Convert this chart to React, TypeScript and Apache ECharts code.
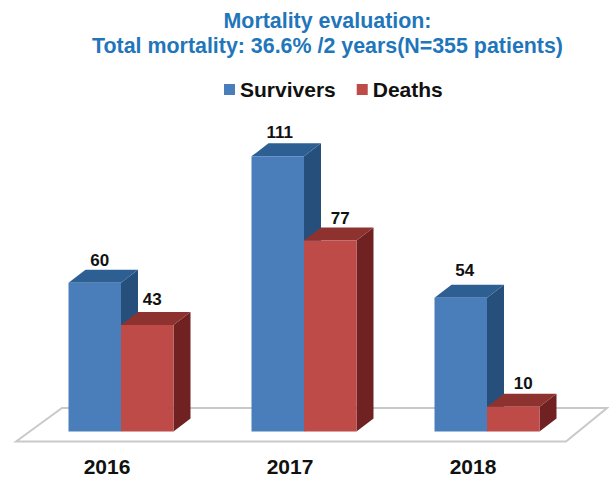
import React, { useEffect, useRef } from "react";
import * as echarts from "echarts";

const years = ["2016", "2017", "2018"];
const survivors = [60, 111, 54];
const deaths = [43, 77, 10];
const titleText = "Mortality evaluation:\nTotal mortality: 36.6% /2 years(N=355 patients)";
const FONT = '"Liberation Sans", Arial, sans-serif';
const BAR_RATIO = 52.5 / 183;
const DX = 17;
const DY = 13;
const survivorLabelNudge = [[5, -22], [2, -24], [4, -27]];
const deathLabelNudge = [[5, -25], [10, -22], [10, -23]];

function bar3d(slot: number, front: string, top: string, side: string, nudge: number[][]) {
  return (_params: any, api: any) => {
    const i = api.value(0);
    const v = api.value(1);
    const band = api.size([1, 0])[0];
    const w = band * BAR_RATIO;
    const c = api.coord([i, v]);
    const b = api.coord([i, 0]);
    const x0 = c[0] + slot * w;
    const x1 = x0 + w;
    const yT = c[1];
    const yB = b[1];
    return {
      type: "group",
      children: [
        {
          type: "polygon",
          shape: { points: [[x1, yT], [x1 + DX, yT - DY], [x1 + DX, yB - DY], [x1, yB]] },
          style: { fill: side },
        },
        {
          type: "polygon",
          shape: { points: [[x0, yT], [x0 + DX, yT - DY], [x1 + DX, yT - DY], [x1, yT]] },
          style: { fill: top },
        },
        { type: "rect", shape: { x: x0, y: yT, width: w, height: yB - yT }, style: { fill: front } },
        {
          type: "text",
          x: x0 + w / 2 + nudge[i][0],
          y: yT + nudge[i][1],
          style: {
            text: String(v),
            fill: "#111",
            font: `bold 17px ${FONT}`,
            textAlign: "center",
            textVerticalAlign: "middle",
          },
        },
      ],
    };
  };
}

export default function App() {
  const ref = useRef<HTMLDivElement>(null);
  useEffect(() => {
    document.body.style.margin = "0";
    const chart = echarts.init(ref.current!, null, { renderer: "svg" });
    chart.setOption({
      animation: false,
      backgroundColor: "#fff",
      title: {
        text: titleText,
        left: 322.5,
        top: 3,
        textAlign: "center",
        textStyle: {
          color: "#1F76BA",
          fontFamily: FONT,
          fontWeight: "bold",
          fontSize: 21.4,
          lineHeight: 25,
        },
      },
      legend: {
        left: 219,
        top: 74,
        itemWidth: 11,
        itemHeight: 11,
        itemGap: 21,
        icon: "rect",
        selectedMode: false,
        data: ["Survivers", "Deaths"],
        textStyle: { color: "#111", fontFamily: FONT, fontWeight: "bold", fontSize: 21 },
      },
      grid: { left: 29.5, width: 549, top: 134, bottom: 45 },
      xAxis: {
        type: "category",
        data: years,
        axisLine: { show: false },
        axisTick: { show: false },
        axisLabel: {
          margin: 24.5,
          padding: [0, 28, 0, 0],
          color: "#111",
          fontFamily: FONT,
          fontWeight: "bold",
          fontSize: 21,
        },
      },
      yAxis: { type: "value", min: 0, max: 120, show: false },
      graphic: [
        {
          type: "polygon",
          silent: true,
          z: -1,
          shape: { points: [[16, 441.5], [62, 408], [607, 408], [566, 441.5]] },
          style: { fill: "#fff", stroke: "#c9c9c9", lineWidth: 2 },
        },
      ],
      series: [
        {
          name: "Survivers",
          type: "custom",
          z: 5,
          clip: false,
          itemStyle: { color: "#4A7EBB" },
          encode: { x: 0, y: 1 },
          data: years.map((y, i) => [y, survivors[i]]),
          renderItem: bar3d(-1, "#4A7EBB", "#2E5F93", "#264F7B", survivorLabelNudge),
        },
        {
          name: "Deaths",
          type: "custom",
          z: 6,
          clip: false,
          itemStyle: { color: "#BE4B48" },
          encode: { x: 0, y: 1 },
          data: years.map((y, i) => [y, deaths[i]]),
          renderItem: bar3d(0, "#BE4B48", "#8E3230", "#702222", deathLabelNudge),
        },
      ],
    });
    return () => chart.dispose();
  }, []);
  return <div ref={ref} style={{ width: 609, height: 477 }} />;
}
